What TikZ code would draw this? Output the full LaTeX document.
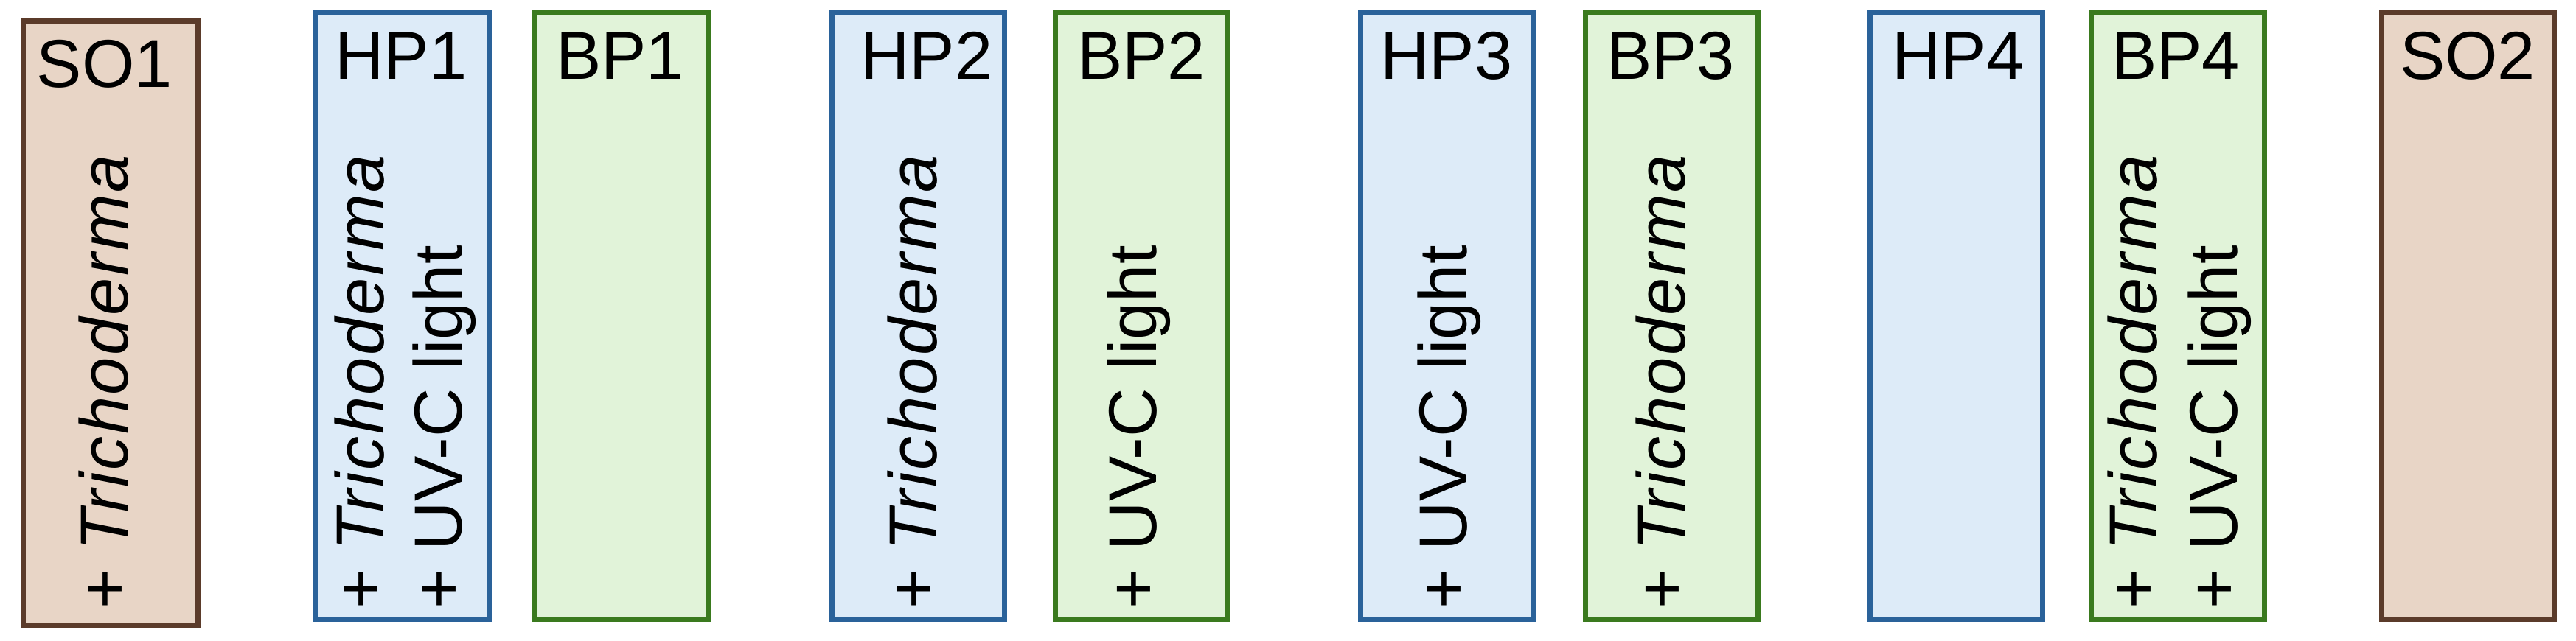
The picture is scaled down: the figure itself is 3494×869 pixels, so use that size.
\documentclass[tikz,border=0pt]{standalone}
\usepackage{fontspec}
\setmainfont{Liberation Sans}
\definecolor{soline}{HTML}{5B3B2A}
\definecolor{sofill}{HTML}{E8D5C6}
\definecolor{hpline}{HTML}{2A629A}
\definecolor{hpfill}{HTML}{DDEBF8}
\definecolor{bpline}{HTML}{3A7A1E}
\definecolor{bpfill}{HTML}{E1F3D9}
\newcommand\trich{\textit{\addfontfeature{LetterSpace=3}Trichoderma}}
\tikzset{
  panel/.style={rectangle, line width=3.5pt, inner sep=0pt, outer sep=0pt},
  sobox/.style={panel, draw=soline, fill=sofill},
  hpbox/.style={panel, draw=hpline, fill=hpfill},
  bpbox/.style={panel, draw=bpline, fill=bpfill},
  title/.style={anchor=base, inner sep=0pt, font=\fontsize{46}{54}\selectfont},
  vtext/.style={rotate=90, anchor=base west, inner sep=0pt, font=\fontsize{46}{54}\selectfont}
}
% #1 name, #2 style, #3 x1, #4 y1, #5 x2, #6 y2 (outer edges, px)
\newcommand\mkpanel[6]{%
  \node[#2, minimum width={(#5-#3-7)*0.5pt}, minimum height={(#6-#4-7)*0.5pt}]
    (#1) at ({(#3+#5)/2},{(#4+#6)/2}) {};}
\begin{document}
\begin{tikzpicture}[x=0.5pt, y=-0.5pt]
\useasboundingbox (0,0) rectangle (3494,869);
\mkpanel{so1}{sobox}{28}{25}{272}{852}
\mkpanel{hp1}{hpbox}{424}{13}{667}{844}
\mkpanel{bp1}{bpbox}{721}{13}{964}{844}
\mkpanel{hp2}{hpbox}{1125}{13}{1366}{844}
\mkpanel{bp2}{bpbox}{1428}{13}{1668}{844}
\mkpanel{hp3}{hpbox}{1842}{13}{2083}{844}
\mkpanel{bp3}{bpbox}{2147}{13}{2388}{844}
\mkpanel{hp4}{hpbox}{2533}{13}{2774}{844}
\mkpanel{bp4}{bpbox}{2833}{13}{3075}{844}
\mkpanel{so2}{sobox}{3227}{13}{3468}{844}

\node[title] (so1t) at (142,118) {SO1};
\node[title] (hp1t) at (544,107) {HP1};
\node[title] (bp1t) at (841,107) {BP1};
\node[title] (hp2t) at (1257,107) {HP2};
\node[title] (bp2t) at (1548,107) {BP2};
\node[title] (hp3t) at (1962,107) {HP3};
\node[title] (bp3t) at (2266,107) {BP3};
\node[title] (hp4t) at (2656,107) {HP4};
\node[title] (bp4t) at (2951,107) {BP4};
\node[title] (so2t) at (3347,107) {SO2};

\node[vtext] (so1a) at (173,827) {+ \trich};
\node[vtext] (hp1a) at (520,827) {+ \trich};
\node[vtext] (hp1b) at (626,827) {+ UV-C light};
\node[vtext] (hp2a) at (1270,827) {+ \trich};
\node[vtext] (bp2a) at (1568,827) {+ UV-C light};
\node[vtext] (hp3a) at (1989,827) {+ UV-C light};
\node[vtext] (bp3a) at (2285,827) {+ \trich};
\node[vtext] (bp4a) at (2925,827) {+ \trich};
\node[vtext] (bp4b) at (3034,827) {+ UV-C light};
\end{tikzpicture}
\end{document}
